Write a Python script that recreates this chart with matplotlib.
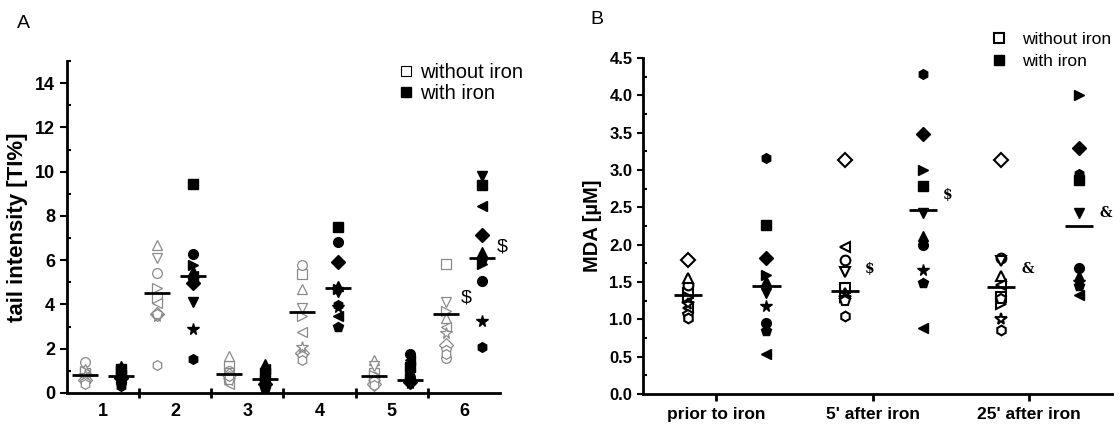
import matplotlib
matplotlib.use("Agg")
import matplotlib.pyplot as plt
from matplotlib.lines import Line2D
import numpy as np

plt.rcParams['font.family'] = ['Liberation Sans', 'DejaVu Sans']

# one marker per subject, same order in every series
markers = ['s', 'o', '^', 'v', '<', '>', 'D', '*', 'p', 'h']

# Panel A: comet assay tail intensity [TI%], six samples
groups_a = ['1', '2', '3', '4', '5', '6']
ti_without = [
    [0.9, 1.4, 1.1, 0.8, 0.7, 1.0, 0.6, 0.8, 0.5, 0.4],
    [4.3, 5.4, 6.7, 6.1, 4.05, 4.75, 3.55, 3.5, 3.55, 1.25],
    [1.2, 1.0, 1.66, 0.9, 0.42, 0.7, 0.8, 0.57, 0.6, 0.75],
    [5.38, 5.8, 4.7, 3.82, 2.76, 3.5, 1.8, 2.08, 1.66, 1.48],
    [0.9, 0.72, 1.51, 1.21, 0.6, 0.8, 0.42, 0.5, 0.55, 0.35],
    [5.81, 1.6, 3.4, 4.12, 3.0, 3.7, 2.16, 2.71, 1.93, 1.75],
]
ti_with = [
    [1.1, 0.5, 1.2, 0.9, 0.8, 1.0, 0.7, 0.6, 0.4, 0.3],
    [9.45, 6.3, 5.5, 4.12, 5.3, 5.8, 4.95, 2.9, 5.1, 1.55],
    [0.9, 0.5, 1.3, 0.7, 1.1, 0.6, 0.4, 0.3, 0.2, 0.45],
    [7.48, 6.82, 4.85, 4.55, 3.5, 4.7, 5.94, 3.9, 2.96, 3.97],
    [1.18, 1.75, 0.95, 0.8, 1.48, 0.7, 0.5, 0.45, 0.6, 0.72],
    [9.4, 5.05, 6.38, 9.8, 8.46, 5.81, 7.12, 3.26, 6.0, 2.08],
]
ti_mean_without = [0.8, 4.52, 0.87, 3.67, 0.75, 3.59]
ti_mean_with = [0.75, 5.28, 0.65, 4.75, 0.6, 6.11]

# Panel B: MDA [uM] at three time points
groups_b = ['prior to iron', "5' after iron", "25' after iron"]
mda_without = [
    [1.35, 1.46, 1.55, 1.24, 1.15, 1.3, 1.79, 1.2, 1.06, 1.02],
    [1.42, 1.8, 1.35, 1.64, 1.97, 1.3, 3.14, 1.29, 1.25, 1.04],
    [1.3, 1.82, 1.58, 1.78, 1.46, 1.2, 3.14, 1.0, 1.27, 0.86],
]
mda_with = [
    [2.26, 0.95, 1.51, 1.35, 0.53, 1.6, 1.82, 1.18, 0.84, 3.16],
    [2.79, 2.0, 2.11, 2.42, 0.89, 3.0, 3.48, 1.66, 1.49, 4.28],
    [2.87, 1.69, 1.58, 2.42, 1.33, 4.0, 3.29, 1.5, 1.44, 2.94],
]
mda_mean_without = [1.32, 1.38, 1.43]
mda_mean_with = [1.44, 2.46, 2.25]

fig = plt.figure(figsize=(11.2, 4.25), dpi=100)
axA = fig.add_axes([0.0598, 0.0753, 0.3866, 0.7812])
axB = fig.add_axes([0.574, 0.0729, 0.419, 0.7906])

grey = '#8a8a8a'


def style_axis(ax):
    for s in ['top', 'right']:
        ax.spines[s].set_visible(False)
    for s in ['left', 'bottom']:
        ax.spines[s].set_linewidth(2)


# ---- Panel A ----
xa = np.arange(1, len(groups_a) + 1)
for i, x in enumerate(xa):
    for m, v in zip(markers, ti_without[i]):
        ms = 8.5 if m == '*' else 7
        axA.plot(x - 0.25, v, marker=m, ls='', mfc='white', mec=grey, mew=0.9, ms=ms)
    for m, v in zip(markers, ti_with[i]):
        ms = 8.5 if m == '*' else 7
        axA.plot(x + 0.25, v, marker=m, ls='', mfc='black', mec='black', ms=ms)
    axA.hlines(ti_mean_without[i], x - 0.25 - 0.18, x - 0.25 + 0.18, color='black', lw=2)
    axA.hlines(ti_mean_with[i], x + 0.25 - 0.18, x + 0.25 + 0.18, color='black', lw=2)

axA.text(6 - 0.25 + 0.2, 4.1, '$', fontsize=14)
axA.text(6 + 0.25 + 0.2, 6.4, '$', fontsize=14)

axA.set_xlim(0.5, 6.5)
axA.set_ylim(0, 15)
axA.set_yticks(np.arange(0, 15, 2))
axA.set_yticks(np.arange(1, 16, 2), minor=True)
axA.set_xticks(xa)
axA.set_xticklabels(groups_a)
axA.set_xticks(xa[:-1] + 0.5, minor=True)
axA.tick_params(axis='x', which='major', length=0, pad=7, labelsize=13)
axA.tick_params(axis='x', which='minor', direction='inout', length=7, width=2)
axA.tick_params(axis='y', which='major', direction='out', length=5, width=1.5, labelsize=13)
axA.tick_params(axis='y', which='minor', direction='in', length=3, width=1.5)
for lab in axA.get_xticklabels() + axA.get_yticklabels():
    lab.set_fontweight('bold')
axA.set_ylabel('tail intensity [TI%]', fontsize=16, fontweight='bold', labelpad=5)
style_axis(axA)

hA = [Line2D([], [], marker='s', ls='', mfc='white', mec='black', mew=0.8, ms=6.5),
      Line2D([], [], marker='s', ls='', mfc='black', mec='black', ms=6.5)]
axA.legend(hA, ['without iron', 'with iron'], loc='upper left',
           bbox_to_anchor=(0.348, 0.875), bbox_transform=fig.transFigure,
           frameon=False, fontsize=14.5, handlelength=0.6, handletextpad=0.4,
           labelspacing=0.1, borderpad=0)

# ---- Panel B ----
xb = np.arange(len(groups_b))
for i, x in enumerate(xb):
    for m, v in zip(markers, mda_without[i]):
        ms = 8.5 if m == '*' else 7
        axB.plot(x - 0.18, v, marker=m, ls='', mfc='white', mec='black', mew=1.5, ms=ms)
    for m, v in zip(markers, mda_with[i]):
        ms = 8.5 if m == '*' else 7
        axB.plot(x + 0.32, v, marker=m, ls='', mfc='black', mec='black', ms=ms)
    axB.hlines(mda_mean_without[i], x - 0.18 - 0.09, x - 0.18 + 0.09, color='black', lw=2)
    axB.hlines(mda_mean_with[i], x + 0.32 - 0.09, x + 0.32 + 0.09, color='black', lw=2)

serif = dict(family='DejaVu Serif', fontsize=10, fontweight='bold')
axB.text(1 - 0.18 + 0.13, 1.67, '$', va='center', **serif)
axB.text(1 + 0.32 + 0.13, 2.67, '$', va='center', **serif)
axB.text(2 - 0.18 + 0.13, 1.67, '&', va='center', **serif)
axB.text(2 + 0.32 + 0.13, 2.42, '&', va='center', **serif)

axB.set_xlim(-0.47, 2.53)
axB.set_ylim(0, 4.5)
axB.set_yticks(np.arange(0, 4.51, 0.5))
axB.set_yticks(np.arange(0.25, 4.5, 0.5), minor=True)
axB.set_yticklabels([f'{v:.1f}' for v in np.arange(0, 4.51, 0.5)])
axB.set_xticks(xb)
axB.set_xticklabels(groups_b)
axB.tick_params(axis='x', which='major', direction='out', length=5, width=2, pad=4, labelsize=12.5)
axB.tick_params(axis='y', which='major', direction='out', length=4, width=1.5, labelsize=12)
axB.tick_params(axis='y', which='minor', direction='in', length=3, width=1.5)
for lab in axB.get_xticklabels() + axB.get_yticklabels():
    lab.set_fontweight('bold')
axB.set_ylabel('MDA [\u00b5M]', fontsize=14.5, fontweight='bold', labelpad=5)
style_axis(axB)

hB = [Line2D([], [], marker='s', ls='', mfc='white', mec='black', mew=1.5, ms=6.5),
      Line2D([], [], marker='s', ls='', mfc='black', mec='black', ms=6.5)]
axB.legend(hB, ['without iron', 'with iron'], loc='upper left',
           bbox_to_anchor=(0.88, 0.945), bbox_transform=fig.transFigure,
           frameon=False, fontsize=12.5, handlelength=0.6, handletextpad=1.0,
           labelspacing=0.4, borderpad=0)

fig.text(0.015, 0.965, 'A', fontsize=14, va='top')
fig.text(0.527, 0.975, 'B', fontsize=14, va='top')

fig.savefig('out.png', dpi=100)
